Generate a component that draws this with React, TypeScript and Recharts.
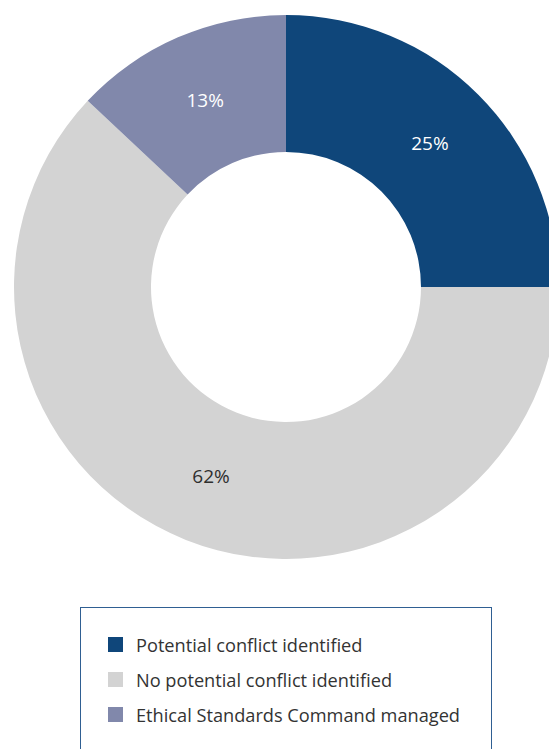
import React from 'react';
import { PieChart, Pie, Cell } from 'recharts';

const categories = ['Potential conflict identified', 'No potential conflict identified', 'Ethical Standards Command managed'];
const shares = [25, 62, 13];
const colors = ['#0f467a', '#d3d3d3', '#8188ab'];
const labelColors = ['#ffffff', '#2e2e2e', '#ffffff'];

const data = categories.map((name, i) => ({ name, value: shares[i] }));

const RADIAN = Math.PI / 180;

const renderLabel = (props: any) => {
  const { cx, cy, midAngle, innerRadius, outerRadius, index, value } = props;
  const r = (innerRadius + outerRadius) / 2;
  const x = cx + r * Math.cos(-midAngle * RADIAN);
  const y = cy + r * Math.sin(-midAngle * RADIAN);
  return (
    <text x={x} y={y} fill={labelColors[index]} textAnchor="middle" dominantBaseline="central" fontSize={19} fontFamily="'Open Sans', sans-serif">
      {value}%
    </text>
  );
};

const LegendBox = () => (
  <div style={{ position: 'absolute', left: 80, top: 607, boxSizing: 'border-box', width: 412, height: 160, border: '1px solid #2f5f92', paddingTop: 19, paddingLeft: 27 }}>
    {data.map((d, i) => (
      <div key={d.name} style={{ display: 'flex', alignItems: 'center', height: 35 }}>
        <span style={{ width: 15, height: 15, background: colors[i], marginRight: 13, display: 'inline-block', flexShrink: 0 }} />
        <span style={{ fontSize: 18.2, color: '#333', fontFamily: "'Open Sans', sans-serif", whiteSpace: 'nowrap' }}>{d.name}</span>
      </div>
    ))}
  </div>
);

export default function App() {
  return (
    <div style={{ position: 'absolute', left: 0, top: 0, width: 549, height: 749, overflow: 'hidden', background: '#fff' }}>
      <PieChart width={549} height={600} margin={{ top: 0, right: 0, bottom: 0, left: 0 }}>
        <Pie
          data={data}
          dataKey="value"
          nameKey="name"
          cx={286}
          cy={287}
          innerRadius={135}
          outerRadius={272}
          startAngle={90}
          endAngle={-270}
          stroke="none"
          label={renderLabel}
          labelLine={false}
          isAnimationActive={false}
        >
          {data.map((d, i) => (
            <Cell key={d.name} fill={colors[i]} />
          ))}
        </Pie>
      </PieChart>
      <LegendBox />
    </div>
  );
}
